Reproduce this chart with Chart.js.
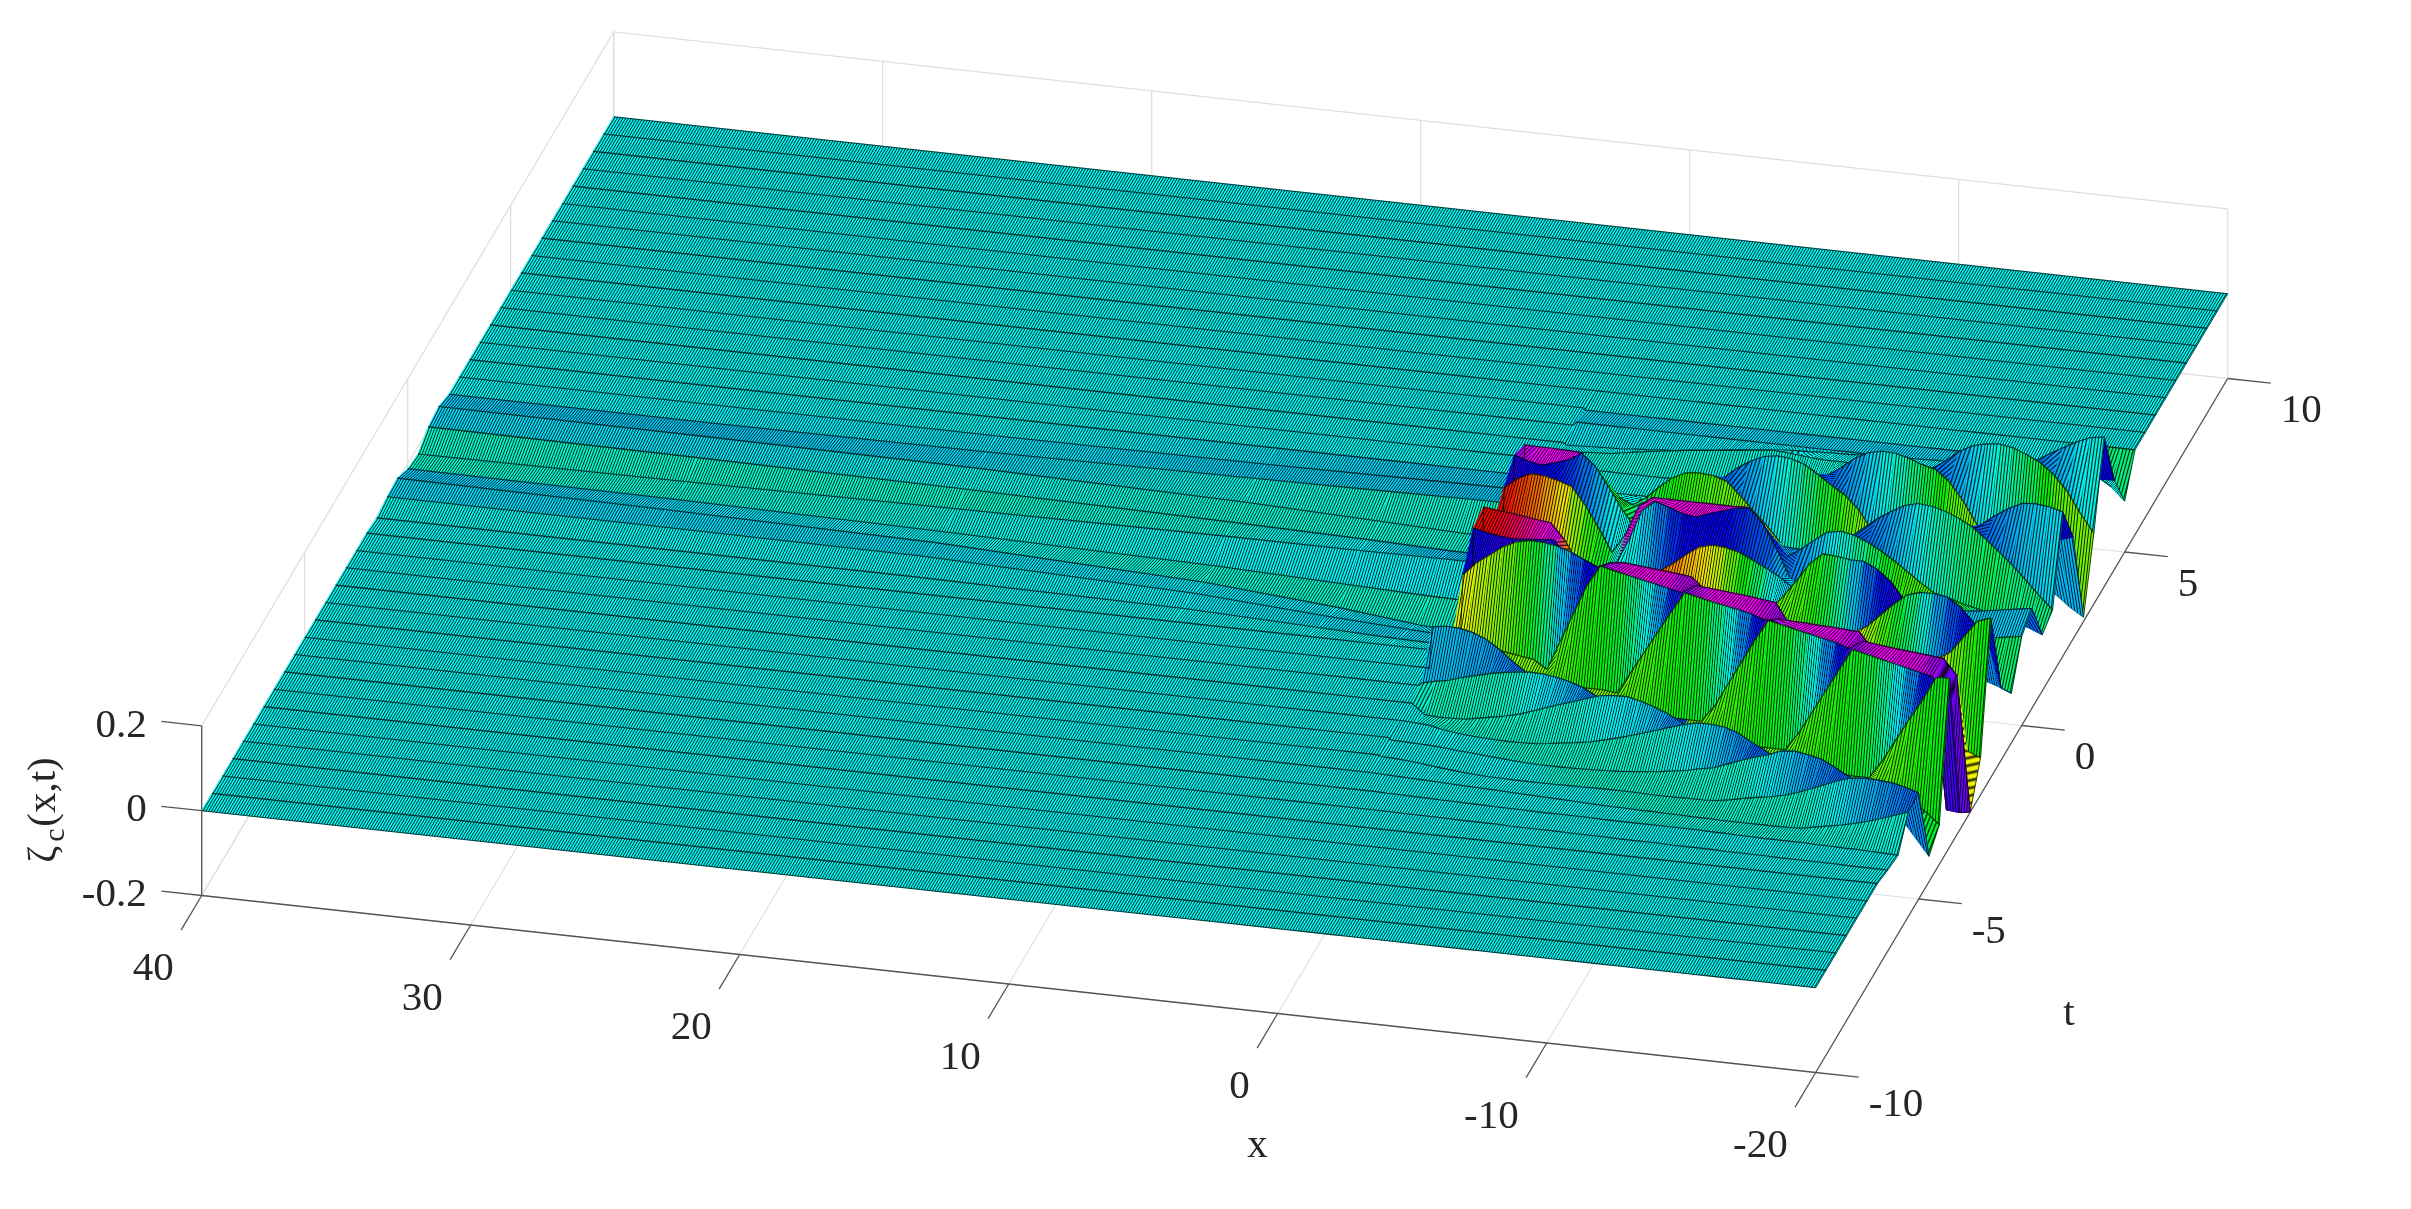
<!DOCTYPE html>
<html lang="en">
<head>
  <meta charset="UTF-8" />
  <title>zeta_c(x,t) surface</title>
  <style>
    html, body { margin: 0; padding: 0; background: #fff; }
    canvas { display: block; }
  </style>
  <script src="https://cdn.jsdelivr.net/npm/chart.js"></script>
</head>
<body>
  <canvas id="surface" width="2411" height="1209"></canvas>
  <script>
    // axis ticks
    const xTicks = [40, 30, 20, 10, 0, -10, -20];
    const tTicks = [-10, -5, 0, 5, 10];
    const zTicks = [-0.2, 0, 0.2];
    const xTickLabels = ['40', '30', '20', '10', '0', '-10', '-20'];
    const tTickLabels = ['-10', '-5', '0', '5', '10'];
    const zTickLabels = ['-0.2', '0', '0.2'];

    // mesh rows and the columns the surface was read at
    const tRows = [10,9.5,9,8.5,8,7.5,7,6.5,6,5.5,5,4.5,4,3.5,3,2.5,2,1.5,1,0.5,0,-0.5,-1,-1.5,-2,-2.5,-3,-3.5,-4,-4.5,-5,-5.5,-6,-6.5,-7,-7.5,-8,-8.5,-9,-9.5,-10];
    const xPlain = [40, 30, 20, 10, 5, 2, 0.1];
    const xWaves = [0,-0.5,-1,-1.5,-2,-2.5,-3,-3.5,-4,-4.5,-5,-5.5,-6,-6.5,-7,-7.5,-8,-8.5,-9,-9.5,-10,-10.5,-11,-11.5,-12,-12.5,-13,-13.5,-14,-14.5,-15,-15.5,-16,-16.5,-17,-17.5,-18,-18.5,-19,-19.5,-20];
    const xCols = xPlain.concat(xWaves);

    // zeta x 1000 on the x > 0 columns, rows not listed are 0
    const zetaPlain = {
      '2.5': [0,0,0,3,6,8,8],
      '2': [0,0,3,10,14,17,17],
      '1.5': [12,10,6,-5,-15,-22,-23],
      '1': [5,2,-3,-12,-18,-23,-24],
      '0.5': [-18,-14,-8,-3,-2,0,0],
      '0': [-12,-15,-22,-32,-42,-48,-50],
      '-0.5': [7,2,-6,-30,-55,-75,-83],
      '-1': [4,4,2,-15,-35,-45,-50],
      '-1.5': [-5,-5,-5,-10,-20,-26,-28]
    };

    // zeta x 1000 on the x <= 0 columns, rows not listed are 0
    const zetaWaves = {
      '5': [-5,-5,-5,-5,-5,-5,-5,-5,-5,-5,-5,-5,-5,-5,-5,-5,-5,-5,-5,-5,-5,-5,-5,-5,-5,-5,-5,-5,-5,-5,-5,-5,-5,-5,-5,-7,-10,-18,-30,-50,-80],
      '4.5': [8,8,8,8,8,8,8,8,8,8,8,8,8,8,8,8,8,8,8,8,8,8,8,8,8,8,8,8,8,8,8,8,8,8,8,8,8,8,8,9,10],
      '4': [-5,-4,-2,-1,0,3,5,8,10,14,18,21,25,29,32,36,39,41,42,44,45,46,48,49,50,51,53,54,55,58,60,62,65,68,72,81,100,118,135,148,153],
      '3.5': [20,22,26,28,30,35,40,45,50,54,58,62,65,69,72,76,80,78,75,72,70,70,70,70,70,71,72,75,78,100,125,142,150,153,148,135,120,95,60,10,-33],
      '3': [30,30,30,30,30,30,30,30,30,30,30,30,30,30,30,30,30,35,40,50,65,79,100,125,142,149,148,140,128,120,95,55,5,-30,-60,-85,-105,-125,-145,-170,-190],
      '2.5': [25,25,25,25,25,25,25,25,25,25,25,25,40,65,89,115,135,150,155,152,142,122,100,80,50,5,-30,-45,-60,-60,-55,-48,-40,-30,-20,-10,0,10,20,30,40],
      '2': [159,158,158,157,156,130,97,60,45,65,95,120,135,138,135,125,95,62,30,-6,-30,-45,-50,-50,-50,-40,-30,-20,-10,0,10,25,40,65,90,115,135,150,152,148,140],
      '1.5': [176,165,159,168,178,197,170,125,75,35,20,30,40,45,50,50,50,45,40,35,30,28,25,35,55,70,95,120,140,158,166,163,155,142,125,100,73,45,13,-20,-50],
      '1': [140,165,180,178,170,160,120,70,15,60,130,155,155,155,155,155,155,155,156,125,90,50,70,95,118,124,118,105,88,68,45,22,2,-5,-15,-22,-30,-38,-45,-55,-68],
      '0.5': [100,100,100,95,85,60,30,10,0,30,90,165,190,180,168,164,175,185,195,199,165,110,45,10,-5,-8,-10,-8,-5,-2,0,3,5,8,10,12,15,20,25,30,35],
      '0': [176,172,169,165,160,156,120,70,30,15,10,20,40,70,90,115,137,145,143,135,120,105,87,65,40,20,0,-8,-15,-18,-20,-20,-20,-18,-15,-12,-10,-5,0,5,10],
      '-0.5': [167,160,155,152,155,158,160,120,70,40,30,30,30,30,30,30,30,30,30,32,35,40,50,85,125,170,197,195,190,190,175,150,110,70,30,5,-20,-40,-60,-70,-83],
      '-1': [98,130,152,175,190,196,195,190,180,165,151,165,168,165,162,159,156,152,125,100,85,80,76,73,70,68,65,62,60,62,80,110,140,165,175,175,171,150,116,80,-30],
      '-1.5': [-12,-15,-20,-25,-30,-35,-40,-60,10,80,150,198,190,183,176,170,163,156,176,174,171,168,165,161,157,110,70,65,60,60,60,60,60,60,60,60,65,85,125,165,176],
      '-2': [-50,-50,-50,-50,-50,-50,-50,-50,-50,-50,-50,-50,-50,-54,-2,49,100,151,200,193,186,180,174,167,156,163,161,160,158,157,155,153,115,80,-20,-40,-60,-75,-90,-100,-113],
      '-2.5': [98,103,102,95,83,62,37,15,-5,-30,-50,-52,-53,-53,-54,-54,-54,-55,-55,-55,-55,-16,40,95,150,200,193,186,179,172,165,155,176,172,168,165,162,159,156,120,-200],
      '-3': [7,14,20,30,38,46,52,57,60,59,55,48,37,20,3,-30,-50,-52,-54,-55,-55,-56,-56,-56,-57,-57,-57,-57,-15,38,91,144,197,190,182,175,168,160,153,-157,-160],
      '-3.5': [0,-24,-26,-25,-24,-18,-12,-6,2,13,24,35,45,56,66,70,71,64,54,42,26,5,-20,-40,-50,-52,-53,-54,-55,-55,-56,-56,-57,-58,-58,-15,38,90,140,196,198],
      '-4': [0,-2,-4,-10,-15,-18,-20,-21,-22,-21,-20,-16,-11,-7,-2,6,14,23,33,43,54,63,71,71,68,58,40,24,5,-10,-20,-22,-25,-27,-30,-32,-35,-48,-60,-80,-107],
      '-4.5': [-5,-6,-7,-8,-10,-13,-15,-18,-20,-22,-24,-25,-25,-25,-24,-23,-22,-20,-17,-14,-10,-5,0,7,13,25,37,48,57,70,73,68,61,45,28,12,0,-25,-60,-100,-140],
      '-5': [-3,-4,-6,-9,-13,-16,-19,-21,-23,-23,-24,-24,-24,-24,-23,-23,-22,-22,-22,-22,-23,-23,-23,-22,-22,-20,-15,-8,-2,3,10,20,32,45,58,68,71,70,67,60,50],
      '-5.5': [0,-1,-2,-3,-4,-5,-6,-7,-8,-9,-10,-11,-12,-13,-14,-15,-16,-17,-18,-18,-19,-19,-20,-20,-21,-21,-22,-22,-22,-22,-22,-21,-20,-14,-8,-2,5,14,24,35,46],
      '-6': [0,0,-1,-1,-2,-2,-3,-3,-4,-4,-5,-5,-5,-6,-6,-6,-6,-6,-7,-7,-7,-7,-7,-7,-7,-7,-8,-8,-9,-9,-10,-10,-10,-10,-11,-11,-12,-12,-13,-14,-15],
      '-6.5': [0,0,0,0,-1,-1,-1,-1,-2,-2,-2,-2,-3,-3,-3,-3,-4,-4,-4,-4,-5,-5,-5,-5,-6,-6,-6,-6,-7,-7,-7,-7,-8,-8,-8,-8,-8,-9,-9,-9,-9]
    };

    // colour data of each band of cells (hue in degrees), keyed by the band's nearer row, not listed is 178
    const cPlain = {
      '2.5': [178,178,178,183,188,188,188],
      '2': [178,180,183,188,188,190,190],
      '1.5': [190,190,186,174,170,170,170],
      '1': [186,184,176,170,170,170,170],
      '0.5': [168,168,168,172,180,190,190],
      '0': [168,170,174,178,180,180,180],
      '-0.5': [190,186,178,170,168,168,168],
      '-1': [186,186,184,182,182,184,186],
      '-1.5': [176,178,178,180,184,186,186]
    };
    const cWaves = {
      '5': [178,178,178,178,178,178,178,178,178,178,178,178,178,178,178,178,178,178,178,178,178,178,178,178,178,178,178,178,178,178,178,178,178,178,178,178,150,150,150,150,150],
      '4.5': [186,186,186,186,186,186,186,186,186,186,186,186,186,186,186,186,186,186,186,186,186,186,186,186,186,186,186,186,186,186,186,186,186,186,186,186,186,186,175,175,175],
      '4': [182,182,182,182,182,182,182,182,182,182,182,182,182,182,182,182,182,182,182,182,182,182,182,182,182,182,182,182,182,182,182,182,182,182,182,182,182,182,240,240,240],
      '3.5': [178,178,178,178,178,178,178,178,178,178,178,178,178,178,178,178,178,178,178,178,178,178,178,178,178,178,178,178,178,178,178,178,178,178,178,225,210,200,190,180,175],
      '3': [172,172,172,172,172,172,172,172,172,172,172,172,172,172,172,172,172,172,172,172,172,172,172,172,172,172,172,225,225,215,205,195,185,175,165,152,140,120,100,92,90],
      '2.5': [175,175,175,175,175,175,175,175,175,175,175,175,175,175,175,175,175,175,175,175,225,225,215,205,195,185,175,165,150,135,118,100,90,90,90,90,90,90,195,195,195],
      '2': [175,175,175,175,175,175,175,175,175,175,175,175,175,225,220,212,205,195,185,175,165,148,130,115,100,90,90,90,90,90,90,90,90,90,90,90,90,240,240,240,240],
      '1.5': [280,292,298,298,295,285,125,125,130,150,130,122,115,110,105,100,95,90,85,85,85,85,85,85,85,85,85,85,85,85,85,85,85,85,225,215,205,198,190,187,185],
      '1': [245,245,240,238,235,225,210,195,180,175,200,200,200,200,200,200,200,200,200,200,200,200,200,200,200,225,218,212,205,195,185,175,165,158,150,145,140,145,150,150,150],
      '0.5': [0,5,15,25,40,55,85,110,125,170,296,298,302,302,302,302,302,298,295,285,240,230,210,200,190,180,170,155,140,125,110,105,100,105,120,140,160,180,205,215,215],
      '0': [175,175,175,175,175,175,175,175,175,175,175,178,190,210,228,240,240,240,238,230,222,215,195,190,190,190,190,190,190,190,190,190,190,190,190,190,190,190,190,190,190],
      '-0.5': [360,360,350,338,322,305,295,30,30,30,30,30,30,30,30,35,45,55,70,95,120,145,175,185,150,150,150,150,150,150,150,150,150,150,150,150,150,150,145,145,145],
      '-1': [240,242,245,248,250,250,250,250,250,250,250,250,250,250,250,250,250,250,250,250,250,250,95,95,100,105,115,135,160,190,215,235,245,200,200,200,200,205,205,205,205],
      '-1.5': [60,65,75,85,95,110,130,155,190,215,240,270,290,300,300,300,298,285,285,285,285,285,285,285,285,285,285,285,285,62,70,85,105,130,150,175,200,220,235,235,235],
      '-2': [90,90,90,90,90,90,90,92,100,105,112,117,122,130,150,175,200,230,265,288,298,298,298,298,290,280,280,280,280,280,280,280,280,280,280,280,70,75,95,110,120],
      '-2.5': [90,90,90,90,90,90,90,90,90,90,90,90,90,92,98,103,108,113,118,123,130,150,175,205,235,270,288,298,298,298,298,290,280,280,280,280,280,280,60,60,60],
      '-3': [190,192,193,195,198,200,205,212,220,220,220,220,220,220,220,220,220,220,220,220,92,98,103,108,113,118,123,130,150,175,205,235,270,288,298,298,298,295,280,265,265],
      '-3.5': [172,168,165,165,165,165,166,168,172,178,184,190,198,208,215,215,100,100,100,100,100,100,100,100,100,100,100,95,100,105,110,113,118,125,135,155,180,205,235,255,255],
      '-4': [178,178,172,168,168,168,168,168,168,168,168,170,170,172,175,178,180,183,187,195,205,212,100,100,100,100,100,100,100,100,100,100,100,100,90,95,100,105,112,118,122],
      '-4.5': [178,178,178,178,178,178,178,178,172,170,168,168,168,168,168,168,168,168,168,170,172,175,180,184,190,198,205,215,215,205,205,205,205,205,205,205,205,205,205,130,130],
      '-5': [178,178,178,178,178,178,178,178,178,178,178,178,174,170,168,168,168,168,168,168,168,168,168,168,168,168,168,170,176,182,188,195,202,208,215,215,210,205,205,205,205],
      '-5.5': [178,178,178,178,178,178,178,178,178,178,178,178,178,178,178,178,178,175,172,170,168,168,168,168,168,168,168,168,168,168,168,168,168,172,176,182,190,196,202,208,212],
      '-6': [178,178,178,178,178,178,178,178,178,178,178,178,178,178,178,178,178,178,178,178,178,172,172,172,172,172,172,172,172,172,172,172,172,172,172,172,172,172,172,172,172]
    };

    // orthographic view of the box
    const projX = (x, t) => 201.7 + (40 - x) * 26.9 + (t + 10) * 20.6;
    const projY = (x, t, z) => 810.7 + (40 - x) * 2.95 - (t + 10) * 34.7 - z * 424;
    const pt = (x, t, z) => ({ x: projX(x, t), y: projY(x, t, z) });

    const canvas = document.getElementById('surface');
    const ctx = canvas.getContext('2d');

    function hueColor(h) { return 'hsl(' + (h + 1) + ',100%,48%)'; }

    function zetaAt(t, j) {
      const n = xPlain.length;
      const row = j < n ? zetaPlain[String(t)] : zetaWaves[String(t)];
      const v = row ? row[j < n ? j : j - n] : 0;
      return (v || 0) / 1000;
    }
    function cAt(t, j) {
      const n = xPlain.length;
      const row = j < n ? cPlain[String(t)] : cWaves[String(t)];
      const v = row ? row[j < n ? j : j - n] : 178;
      return v === undefined ? 178 : v;
    }
    const isFlat = t => !zetaPlain[String(t)] && !zetaWaves[String(t)];

    // one mesh period of the fine lines running along t, as a small tile
    const TILE_W = 3, TILE_H = 2;
    const tile = document.createElement('canvas');
    tile.width = TILE_W; tile.height = TILE_H;
    const tileCtx = tile.getContext('2d');
    tileCtx.fillStyle = 'rgba(0,0,0,0.88)';
    tileCtx.fillRect(1, 0, 1, TILE_H);

    function meshPattern(a, b, d, periods) {
      const p = ctx.createPattern(tile, 'repeat');
      p.setTransform(new DOMMatrix([
        (b.x - a.x) / (periods * TILE_W), (b.y - a.y) / (periods * TILE_W),
        (d.x - a.x) / TILE_H, (d.y - a.y) / TILE_H,
        a.x, a.y
      ]));
      return p;
    }

    const base = { showLine: true, pointRadius: 0, pointHoverRadius: 0, tension: 0 };
    const datasets = [];
    const ROW_LINE = 'rgba(0,0,0,0.72)';

    function addLine(points, color, width) {
      datasets.push(Object.assign({}, base, { data: points, borderColor: color, borderWidth: width, fill: false }));
    }

    // box and grid behind the surface
    const GRID = '#dedede', AXIS = '#555555';
    xTicks.forEach(x => {
      addLine([pt(x, -10, -0.2), pt(x, 10, -0.2), pt(x, 10, 0.2)], GRID, 1.2);
    });
    tTicks.forEach(t => {
      addLine([pt(-20, t, -0.2), pt(40, t, -0.2), pt(40, t, 0.2)], GRID, 1.2);
    });
    zTicks.forEach(z => {
      addLine([pt(40, -10, z), pt(40, 10, z), pt(-20, 10, z)], GRID, 1.2);
    });

    // surface, far row first and x = 40 first inside a row
    for (let i = 0; i < tRows.length - 1; i++) {
      const far = tRows[i], near = tRows[i + 1];
      const plain = isFlat(far) && isFlat(near);
      const cols = plain ? [0, xCols.length - 1] : xCols.map((_, j) => j);
      const farEdge = [];
      for (let k = 0; k < cols.length - 1; k++) {
        const j0 = cols[k], j1 = cols[k + 1];
        const x0 = xCols[j0], x1 = xCols[j1];
        const a = pt(x0, near, zetaAt(near, j0));
        const b = pt(x1, near, zetaAt(near, j1));
        const c = pt(x1, far, zetaAt(far, j1));
        const d = pt(x0, far, zetaAt(far, j0));
        const grad = ctx.createLinearGradient(a.x, 0, b.x, 0);
        grad.addColorStop(0, hueColor(cAt(near, j0)));
        grad.addColorStop(1, hueColor(cAt(near, j1)));
        const quad = [a, b, c, d, a];
        datasets.push(Object.assign({}, base, {
          data: quad, fill: 'shape', backgroundColor: grad, borderColor: grad, borderWidth: 0.7
        }));
        const periods = Math.max(1, Math.round(Math.abs(x1 - x0) * 10));
        datasets.push(Object.assign({}, base, {
          data: quad, fill: 'shape', backgroundColor: meshPattern(a, b, d, periods), borderWidth: 0
        }));
        // the far row stays in sight only where the band faces the viewer
        if (d.y < a.y || c.y < b.y) farEdge.push(d, c);
        else farEdge.push({ x: NaN, y: NaN });
      }
      addLine(farEdge, ROW_LINE, 1.1);
      // right hand edge of the band and the near row line
      const last = xCols.length - 1;
      addLine([pt(-20, far, zetaAt(far, last)), pt(-20, near, zetaAt(near, last))], 'rgba(0,0,0,0.7)', 1);
      addLine(xCols.map((x, j) => pt(x, near, zetaAt(near, j))), ROW_LINE, 1.1);
    }

    // axes in front
    addLine([pt(40, -10, -0.2), pt(-20, -10, -0.2)], AXIS, 1.3);
    addLine([pt(-20, -10, -0.2), pt(-20, 10, -0.2)], AXIS, 1.3);
    addLine([pt(40, -10, -0.2), pt(40, -10, 0.2)], AXIS, 1.3);
    xTicks.forEach(x => addLine([pt(x, -10, -0.2), pt(x, -11, -0.2)], AXIS, 1.3));
    tTicks.forEach(t => addLine([pt(-20, t, -0.2), pt(-21.6, t, -0.2)], AXIS, 1.3));
    zTicks.forEach(z => addLine([pt(40, -10, z), pt(41.5, -10, z)], AXIS, 1.3));

    // Chart.js paints the first dataset last
    datasets.reverse();

    const axisText = {
      id: 'axisText',
      afterDraw(chart) {
        const c = chart.ctx, sx = chart.scales.x, sy = chart.scales.y;
        const at = p => ({ x: sx.getPixelForValue(p.x), y: sy.getPixelForValue(p.y) });
        c.save();
        c.fillStyle = '#262626';
        c.font = '41px "Liberation Serif"';
        c.textBaseline = 'middle';
        c.textAlign = 'right';
        xTicks.forEach((x, i) => {
          const p = at(pt(x, -10, -0.2));
          c.fillText(xTickLabels[i], p.x - 28, p.y + 74);
        });
        zTicks.forEach((z, i) => {
          const p = at(pt(40, -10, z));
          c.fillText(zTickLabels[i], p.x - 55, p.y);
        });
        c.textAlign = 'left';
        tTicks.forEach((t, i) => {
          const p = at(pt(-20, t, -0.2));
          c.fillText(tTickLabels[i], p.x + 53, p.y + 33);
        });
        c.textAlign = 'center';
        const xl = at(pt(-1, -10, -0.2));
        c.fillText('x', xl.x - 47, xl.y + 130);
        const tl = at(pt(-20, -3, -0.2));
        c.fillText('t', tl.x + 109, tl.y + 185);
        // zeta_c(x,t), turned on its side
        const zl = at(pt(40, -10, 0));
        c.translate(zl.x - 157, zl.y - 28);
        c.rotate(-Math.PI / 2);
        c.textAlign = 'left';
        c.fillText('\u03B6', -80, 0);
        c.font = '30px "Liberation Serif"';
        c.fillText('c', -59, 11);
        c.font = '41px "Liberation Serif"';
        c.fillText('(x,t)', -44, 0);
        c.restore();
      }
    };

    new Chart(canvas, {
      type: 'scatter',
      data: { datasets },
      plugins: [axisText],
      options: {
        responsive: false,
        animation: false,
        events: [],
        layout: { padding: 0 },
        plugins: { legend: { display: false }, tooltip: { enabled: false } },
        scales: {
          x: { type: 'linear', min: 0, max: 2411, display: false },
          y: { type: 'linear', min: 0, max: 1209, reverse: true, display: false }
        }
      }
    });
  </script>
</body>
</html>
